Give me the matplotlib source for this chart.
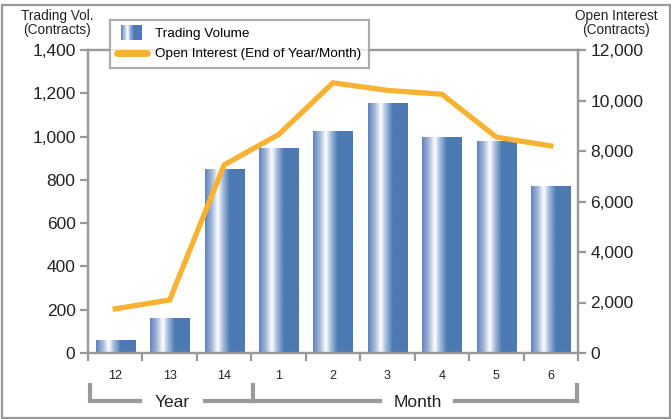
import matplotlib
matplotlib.use("Agg")
import matplotlib.pyplot as plt
import numpy as np
from matplotlib.patches import Rectangle
from matplotlib.legend_handler import HandlerBase
from matplotlib.lines import Line2D
from matplotlib.colors import LinearSegmentedColormap

plt.rcParams['font.family'] = ['Liberation Sans', 'DejaVu Sans']

categories = ["12", "13", "14", "1", "2", "3", "4", "5", "6"]
trading_volume = [60, 160, 850, 945, 1025, 1155, 995, 975, 770]
open_interest = [1750, 2100, 7450, 8650, 10700, 10400, 10250, 8550, 8200]
left_ticks = [0, 200, 400, 600, 800, 1000, 1200, 1400]
right_ticks = [0, 2000, 4000, 6000, 8000, 10000, 12000]

GRAY = "#999999"
BLUE = "#4d7ab3"
ORANGE = "#f7b231"

W, H = 671, 419
fig = plt.figure(figsize=(W / 100, H / 100), dpi=100)
fig.patch.set_facecolor("white")
fig.add_artist(Rectangle((1.5 / W, 1 - 418 / H), (668 / W), (413 / H), transform=fig.transFigure,
                         fill=False, edgecolor=GRAY, lw=1.6))

ax = fig.add_axes([88 / W, 1 - 353 / H, 490 / W, 303 / H])
ax2 = ax.twinx()

grad_cmap = LinearSegmentedColormap.from_list(
    "bar", [(0.0, "#5e82b9"), (0.18, "#a9bcdc"), (0.32, "#ffffff"),
            (0.45, "#a6bcdc"), (0.62, BLUE), (1.0, BLUE)])
grad = np.linspace(0, 1, 256).reshape(1, -1)

x = np.arange(len(categories))
bw = 0.72
bars = ax.bar(x, trading_volume, width=bw, color="none", edgecolor="none", zorder=2)
for b in bars:
    x0, y0, w, h = b.get_x(), b.get_y(), b.get_width(), b.get_height()
    ax.imshow(grad, cmap=grad_cmap, aspect="auto", extent=(x0, x0 + w, y0, y0 + h),
              interpolation="bilinear", zorder=2)

ax.set_xlim(-0.5, len(categories) - 0.5)
ax.set_ylim(0, 1400)
ax.set_yticks(left_ticks)
ax.set_yticklabels([f"{v:,}" for v in left_ticks], fontsize=12.5, color="#222222")
ax.set_xticks(x)
ax.set_xticklabels(categories, fontsize=9, color="#222222")
ax.set_xticks(np.arange(-0.5, len(categories)), minor=True)
ax.tick_params(axis="x", which="major", length=0, pad=12)
ax.tick_params(axis="x", which="minor", length=6, width=1.6, color=GRAY)
ax.tick_params(axis="y", length=6, width=1.6, color=GRAY, pad=3)

ax2.plot(x, open_interest, color=ORANGE, lw=3.8, solid_joinstyle="miter", zorder=3)
ax2.set_ylim(0, 12000)
ax2.set_yticks(right_ticks)
ax2.set_yticklabels([f"{v:,}" for v in right_ticks], fontsize=12.5, color="#222222")
ax2.tick_params(axis="y", length=6, width=1.6, color=GRAY, pad=3)

for a in (ax, ax2):
    for s in a.spines.values():
        s.set_color(GRAY)
        s.set_linewidth(1.6)

fig.text(57 / W, 1 - 23 / H, "Trading Vol.\n(Contracts)", ha="center", va="center",
         fontsize=9.8, linespacing=0.95, color="#222222")
fig.text(616 / W, 1 - 23 / H, "Open Interest\n(Contracts)", ha="center", va="center",
         fontsize=9.8, linespacing=0.95, color="#222222")


class GradHandler(HandlerBase):
    def create_artists(self, legend, orig_handle, xdescent, ydescent, width, height, fontsize, trans):
        arts = []
        n = 24
        for i in range(n):
            t = (i + 0.5) / n
            c = grad_cmap(t)
            r = Rectangle((-xdescent + width * 0.12 + i * width * 0.68 / n, -ydescent - 2),
                          width * 0.68 / n + 0.3, height + 4, facecolor=c, edgecolor="none",
                          transform=trans)
            arts.append(r)
        return arts


vol_handle = Rectangle((0, 0), 1, 1)
oi_handle = Line2D([], [], color=ORANGE, lw=5, solid_capstyle="round")
leg = fig.legend([vol_handle, oi_handle],
                 ["Trading Volume", "Open Interest (End of Year/Month)"],
                 handler_map={Rectangle: GradHandler()},
                 loc="upper left", bbox_to_anchor=(110 / W, 1 - 20 / H),
                 fontsize=9.7, frameon=True, fancybox=False, handlelength=2.2,
                 handletextpad=0.6, borderpad=0.55, labelspacing=0.6,
                 borderaxespad=0)
leg.get_frame().set_edgecolor(GRAY)
leg.get_frame().set_linewidth(1.6)
leg.set_zorder(10)

blend = fig.transFigure
def fy(py):
    return 1 - py / H
def fx(px):
    return px / W

lw = 3.0
bc = "#9a9a9a"
y_line = fy(401)
y_top = fy(385)
fig.add_artist(Line2D([fx(90), fx(90), fx(140)], [y_top, y_line, y_line], color=bc, lw=lw,
                      solid_joinstyle="miter", transform=blend))
fig.add_artist(Line2D([fx(205), fx(253)], [y_line, y_line], color=bc, lw=lw, transform=blend))
fig.add_artist(Line2D([fx(253), fx(253)], [y_top, y_line], color=bc, lw=lw, transform=blend))
fig.add_artist(Line2D([fx(253), fx(380)], [y_line, y_line], color=bc, lw=lw, transform=blend))
fig.add_artist(Line2D([fx(455), fx(577), fx(577)], [y_line, y_line, y_top], color=bc, lw=lw,
                      solid_joinstyle="miter", transform=blend))
fig.text(fx(172), fy(402), "Year", ha="center", va="center", fontsize=12.5, color="#222222")
fig.text(fx(418), fy(402), "Month", ha="center", va="center", fontsize=12.5, color="#222222")

fig.savefig("out.png", dpi=100)
